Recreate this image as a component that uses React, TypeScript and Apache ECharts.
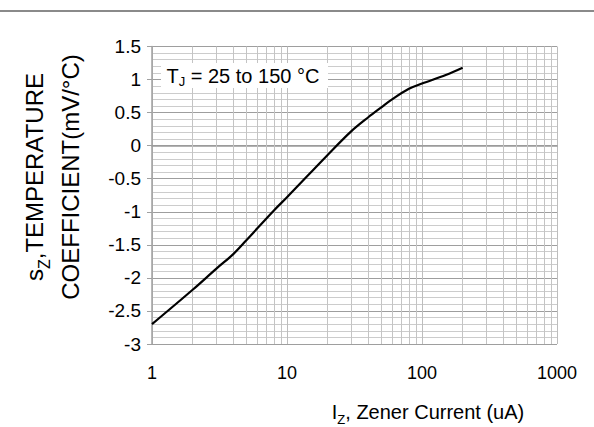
import React, { useEffect, useRef } from "react";
import * as echarts from "echarts";

// Zener current (uA) and temperature coefficient (mV/°C)
const currentUA = [1, 2, 3, 4, 5, 8, 10, 20, 30, 40, 50, 60, 80, 100, 150, 200];
const tempCoeff = [-2.7, -2.18, -1.86, -1.64, -1.43, -0.98, -0.78, -0.14, 0.22, 0.43, 0.58, 0.7, 0.86, 0.94, 1.07, 1.18];

// log-paper minor vertical grid lines
const xMinorLines = [2, 3, 4, 5, 6, 7, 8, 9, 20, 30, 40, 50, 60, 70, 80, 90, 200, 300, 400, 500, 600, 700, 800, 900];
const xTickValues = [1, 10, 100, 1000];
const xTickLabels = ["1", "10", "100", "1000"];

const FONT = "'Liberation Sans', Arial, Helvetica, sans-serif";

export default function App() {
  const ref = useRef<HTMLDivElement>(null);

  useEffect(() => {
    document.body.style.margin = "0";
    if (!ref.current) return;
    const chart = echarts.init(ref.current, undefined, { renderer: "svg" });

    const option: any = {
      animation: false,
      backgroundColor: "#ffffff",
      grid: { left: 152, top: 46.5, right: 37, bottom: 83, containLabel: false },
      xAxis: {
        type: "log",
        logBase: 10,
        min: 1,
        max: 1000,
        axisLine: { show: true, lineStyle: { color: "#9a9a9a", width: 1.5 } },
        axisTick: { show: false },
        axisLabel: {
          color: "#000",
          fontSize: 18,
          fontFamily: FONT,
          margin: 20,
          formatter: (v: number) => {
            const i = xTickValues.findIndex((t) => Math.abs(t - v) / t < 1e-6);
            return i >= 0 ? xTickLabels[i] : "";
          },
        },
        splitLine: { show: true, lineStyle: { color: "#bdbdbd", width: 1 } },
      },
      yAxis: {
        type: "value",
        min: -3,
        max: 1.5,
        interval: 0.5,
        axisLine: { show: true, lineStyle: { color: "#a0a0a0", width: 1.5 } },
        axisTick: { show: true, inside: false, length: 5, lineStyle: { color: "#a0a0a0" } },
        axisLabel: { color: "#000", fontSize: 19, fontFamily: FONT, margin: 11 },
        splitLine: { show: true, lineStyle: { color: "#9e9e9e", width: 1 } },
        minorTick: { show: false, splitNumber: 5 },
        minorSplitLine: { show: true, lineStyle: { color: "#cccccc", width: 1 } },
      },
      series: [
        {
          type: "line",
          data: [],
          z: 1,
          silent: true,
          markLine: {
            silent: true,
            symbol: ["none", "none"],
            label: { show: false },
            animation: false,
            lineStyle: { color: "#c4c4c4", width: 1, type: "solid" },
            emphasis: { disabled: true },
            data: xMinorLines.map((v) => ({ xAxis: v })),
          },
        },
        {
          type: "line",
          z: 5,
          data: currentUA.map((x, i) => [x, tempCoeff[i]]),
          showSymbol: false,
          smooth: 0.35,
          lineStyle: { color: "#000", width: 2.2 },
        },
      ],
      graphic: [
        {
          type: "line",
          z: 100,
          shape: { x1: 0, y1: 11, x2: 594, y2: 11 },
          style: { stroke: "#8a8a8a", lineWidth: 2 },
        },
        {
          type: "rect",
          z: 100,
          shape: { x: 161, y: 63, width: 167, height: 25 },
          style: { fill: "#ffffff" },
        },
        {
          type: "text",
          z: 101,
          x: 166.5,
          y: 75.7,
          style: {
            text: "{m|T}{s|J}{m| = 25 to 150 °C}",
            verticalAlign: "middle",
            align: "left",
            fill: "#000",
            rich: {
              m: { fontSize: 20, lineHeight: 24, fontFamily: FONT, fill: "#000" },
              s: { fontSize: 13, lineHeight: 14, fontFamily: FONT, verticalAlign: "bottom", fill: "#000" },
            },
          },
        },
        {
          type: "text",
          z: 101,
          x: 428,
          y: 412,
          style: {
            text: "{m|I}{s|Z}{m|, Zener Current (uA)}",
            align: "center",
            verticalAlign: "middle",
            fill: "#000",
            rich: {
              m: { fontSize: 20, lineHeight: 28, fontFamily: FONT, fill: "#000" },
              s: { fontSize: 13, lineHeight: 17, fontFamily: FONT, verticalAlign: "bottom", fill: "#000" },
            },
          },
        },
        {
          type: "text",
          z: 101,
          x: 52,
          y: 177,
          rotation: Math.PI / 2,
          style: {
            text: "{m|s}{s|Z}{m|,TEMPERATURE}\n{m|COEFFICIENT(mV/°C)}",
            align: "center",
            verticalAlign: "middle",
            fill: "#000",
            rich: {
              m: { fontSize: 24, lineHeight: 36, fontFamily: FONT, fill: "#000" },
              s: { fontSize: 16, lineHeight: 24, fontFamily: FONT, verticalAlign: "bottom", fill: "#000" },
            },
          },
        },
      ],
    };

    chart.setOption(option);
    return () => chart.dispose();
  }, []);

  return <div ref={ref} style={{ width: 594, height: 427 }} />;
}
